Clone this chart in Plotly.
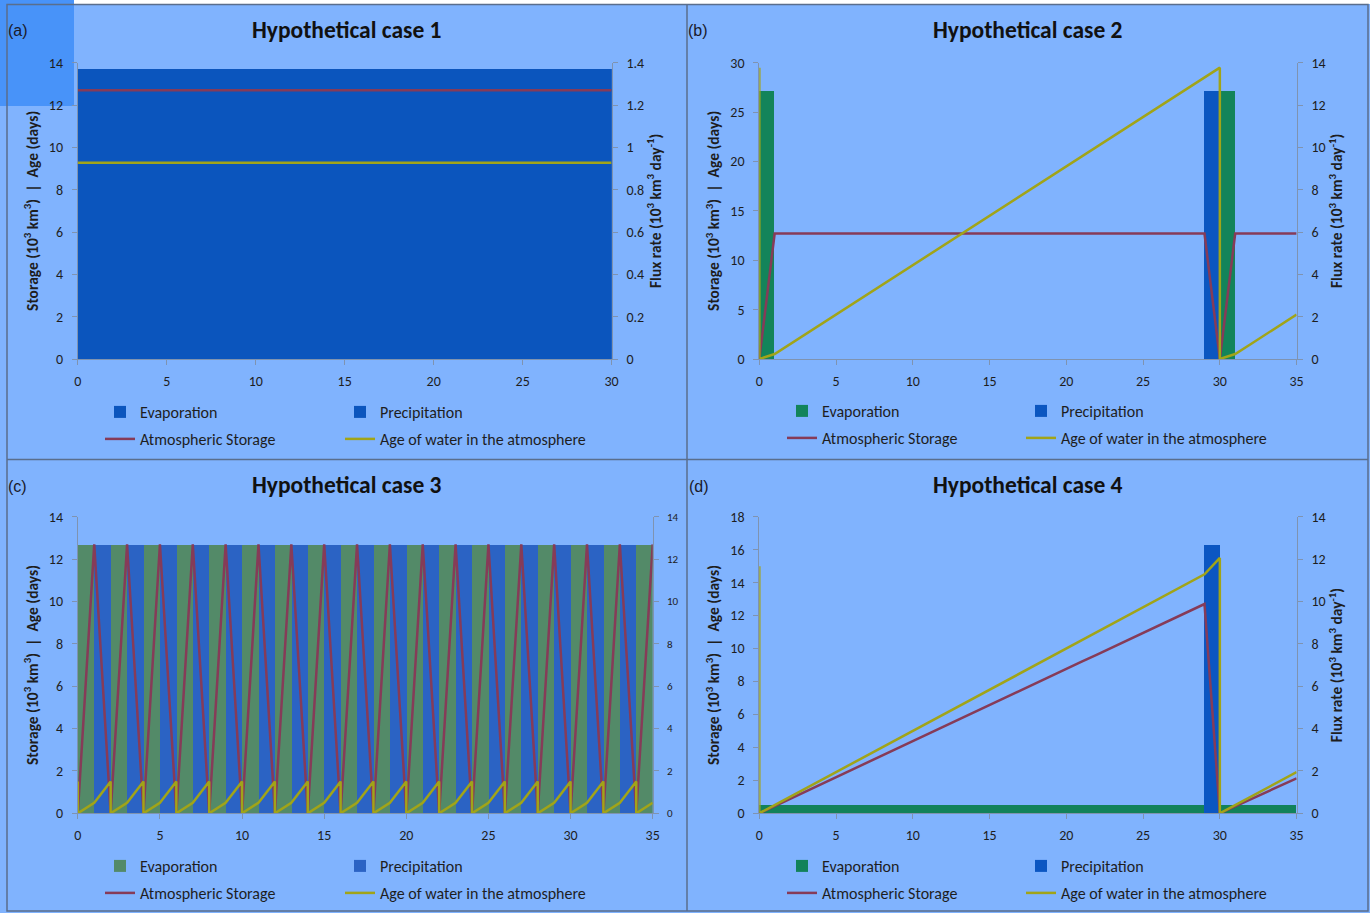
import plotly.graph_objects as go

W, H = 1370, 913

# ---------------- DATA ----------------
# Case 1 (flux on right axis, 10^3 km3/day ; storage/age on left axis)
c1_days = [0, 1, 2, 3, 4, 5, 6, 7, 8, 9, 10, 11, 12, 13, 14, 15, 16, 17, 18, 19,
           20, 21, 22, 23, 24, 25, 26, 27, 28, 29]
c1_evap = [1.37, 1.37, 1.37, 1.37, 1.37, 1.37, 1.37, 1.37, 1.37, 1.37,
           1.37, 1.37, 1.37, 1.37, 1.37, 1.37, 1.37, 1.37, 1.37, 1.37,
           1.37, 1.37, 1.37, 1.37, 1.37, 1.37, 1.37, 1.37, 1.37, 1.37]
c1_prec = [1.37, 1.37, 1.37, 1.37, 1.37, 1.37, 1.37, 1.37, 1.37, 1.37,
           1.37, 1.37, 1.37, 1.37, 1.37, 1.37, 1.37, 1.37, 1.37, 1.37,
           1.37, 1.37, 1.37, 1.37, 1.37, 1.37, 1.37, 1.37, 1.37, 1.37]
c1_t = [0, 1, 2, 3, 4, 5, 6, 7, 8, 9, 10, 11, 12, 13, 14, 15, 16, 17, 18, 19,
        20, 21, 22, 23, 24, 25, 26, 27, 28, 29, 30]
c1_storage = [12.7, 12.7, 12.7, 12.7, 12.7, 12.7, 12.7, 12.7, 12.7, 12.7,
              12.7, 12.7, 12.7, 12.7, 12.7, 12.7, 12.7, 12.7, 12.7, 12.7,
              12.7, 12.7, 12.7, 12.7, 12.7, 12.7, 12.7, 12.7, 12.7, 12.7, 12.7]
c1_age = [9.27, 9.27, 9.27, 9.27, 9.27, 9.27, 9.27, 9.27, 9.27, 9.27,
          9.27, 9.27, 9.27, 9.27, 9.27, 9.27, 9.27, 9.27, 9.27, 9.27,
          9.27, 9.27, 9.27, 9.27, 9.27, 9.27, 9.27, 9.27, 9.27, 9.27, 9.27]

# Case 2
c2_days = [0, 1, 2, 3, 4, 5, 6, 7, 8, 9, 10, 11, 12, 13, 14, 15, 16, 17, 18, 19,
           20, 21, 22, 23, 24, 25, 26, 27, 28, 29, 30, 31, 32, 33, 34]
c2_evap = [12.7, 0, 0, 0, 0, 0, 0, 0, 0, 0, 0, 0, 0, 0, 0, 0, 0, 0, 0, 0,
           0, 0, 0, 0, 0, 0, 0, 0, 0, 0, 12.7, 0, 0, 0, 0]
c2_prec = [0, 0, 0, 0, 0, 0, 0, 0, 0, 0, 0, 0, 0, 0, 0, 0, 0, 0, 0, 0,
           0, 0, 0, 0, 0, 0, 0, 0, 0, 12.7, 0, 0, 0, 0, 0]
c2_t_storage = [0, 1, 2, 3, 4, 5, 6, 7, 8, 9, 10, 11, 12, 13, 14, 15, 16, 17, 18, 19,
                20, 21, 22, 23, 24, 25, 26, 27, 28, 29, 30, 31, 32, 33, 34, 35]
c2_storage = [0, 12.7, 12.7, 12.7, 12.7, 12.7, 12.7, 12.7, 12.7, 12.7, 12.7, 12.7,
              12.7, 12.7, 12.7, 12.7, 12.7, 12.7, 12.7, 12.7, 12.7, 12.7, 12.7, 12.7,
              12.7, 12.7, 12.7, 12.7, 12.7, 12.7, 0, 12.7, 12.7, 12.7, 12.7, 12.7]
c2_t_age = [0, 0, 1, 2, 3, 4, 5, 6, 7, 8, 9, 10, 11, 12, 13, 14, 15, 16, 17, 18, 19,
            20, 21, 22, 23, 24, 25, 26, 27, 28, 29, 30, 30, 31, 32, 33, 34, 35]
c2_age = [29.5, 0, 0.5, 1.5, 2.5, 3.5, 4.5, 5.5, 6.5, 7.5, 8.5, 9.5, 10.5, 11.5, 12.5,
          13.5, 14.5, 15.5, 16.5, 17.5, 18.5, 19.5, 20.5, 21.5, 22.5, 23.5, 24.5, 25.5,
          26.5, 27.5, 28.5, 29.5, 0, 0.5, 1.5, 2.5, 3.5, 4.5]

# Case 3
c3_days = [0, 1, 2, 3, 4, 5, 6, 7, 8, 9, 10, 11, 12, 13, 14, 15, 16, 17, 18, 19,
           20, 21, 22, 23, 24, 25, 26, 27, 28, 29, 30, 31, 32, 33, 34]
c3_evap = [12.7, 0, 12.7, 0, 12.7, 0, 12.7, 0, 12.7, 0, 12.7, 0, 12.7, 0, 12.7, 0,
           12.7, 0, 12.7, 0, 12.7, 0, 12.7, 0, 12.7, 0, 12.7, 0, 12.7, 0, 12.7, 0,
           12.7, 0, 12.7]
c3_prec = [0, 12.7, 0, 12.7, 0, 12.7, 0, 12.7, 0, 12.7, 0, 12.7, 0, 12.7, 0, 12.7,
           0, 12.7, 0, 12.7, 0, 12.7, 0, 12.7, 0, 12.7, 0, 12.7, 0, 12.7, 0, 12.7,
           0, 12.7, 0]
c3_t_storage = [0, 1, 2, 3, 4, 5, 6, 7, 8, 9, 10, 11, 12, 13, 14, 15, 16, 17, 18, 19,
                20, 21, 22, 23, 24, 25, 26, 27, 28, 29, 30, 31, 32, 33, 34, 35]
c3_storage = [0, 12.7, 0, 12.7, 0, 12.7, 0, 12.7, 0, 12.7, 0, 12.7, 0, 12.7, 0, 12.7,
              0, 12.7, 0, 12.7, 0, 12.7, 0, 12.7, 0, 12.7, 0, 12.7, 0, 12.7, 0, 12.7,
              0, 12.7, 0, 12.7]
c3_t_age = [0, 0, 1, 2, 2, 3, 4, 4, 5, 6, 6, 7, 8, 8, 9, 10, 10, 11, 12, 12, 13, 14, 14,
            15, 16, 16, 17, 18, 18, 19, 20, 20, 21, 22, 22, 23, 24, 24, 25, 26, 26, 27,
            28, 28, 29, 30, 30, 31, 32, 32, 33, 34, 34, 35]
c3_age = [1.5, 0, 0.5, 1.5, 0, 0.5, 1.5, 0, 0.5, 1.5, 0, 0.5, 1.5, 0, 0.5, 1.5, 0, 0.5,
          1.5, 0, 0.5, 1.5, 0, 0.5, 1.5, 0, 0.5, 1.5, 0, 0.5, 1.5, 0, 0.5, 1.5, 0, 0.5,
          1.5, 0, 0.5, 1.5, 0, 0.5, 1.5, 0, 0.5, 1.5, 0, 0.5, 1.5, 0, 0.5, 1.5, 0, 0.5]

# Case 4
c4_days = [0, 1, 2, 3, 4, 5, 6, 7, 8, 9, 10, 11, 12, 13, 14, 15, 16, 17, 18, 19,
           20, 21, 22, 23, 24, 25, 26, 27, 28, 29, 30, 31, 32, 33, 34]
c4_evap = [0.42, 0.42, 0.42, 0.42, 0.42, 0.42, 0.42, 0.42, 0.42, 0.42, 0.42, 0.42,
           0.42, 0.42, 0.42, 0.42, 0.42, 0.42, 0.42, 0.42, 0.42, 0.42, 0.42, 0.42,
           0.42, 0.42, 0.42, 0.42, 0.42, 0, 0.42, 0.42, 0.42, 0.42, 0.42]
c4_prec = [0, 0, 0, 0, 0, 0, 0, 0, 0, 0, 0, 0, 0, 0, 0, 0, 0, 0, 0, 0,
           0, 0, 0, 0, 0, 0, 0, 0, 0, 12.7, 0, 0, 0, 0, 0]
c4_t_storage = [0, 1, 2, 3, 4, 5, 6, 7, 8, 9, 10, 11, 12, 13, 14, 15, 16, 17, 18, 19,
                20, 21, 22, 23, 24, 25, 26, 27, 28, 29, 30, 31, 32, 33, 34, 35]
c4_storage = [0, 0.44, 0.88, 1.31, 1.75, 2.19, 2.63, 3.07, 3.5, 3.94, 4.38, 4.82, 5.26,
              5.69, 6.13, 6.57, 7.01, 7.45, 7.88, 8.32, 8.76, 9.2, 9.63, 10.07, 10.51,
              10.95, 11.39, 11.82, 12.26, 12.7, 0, 0.42, 0.85, 1.27, 1.69, 2.12]
c4_t_age = [0, 0, 1, 2, 3, 4, 5, 6, 7, 8, 9, 10, 11, 12, 13, 14, 15, 16, 17, 18, 19,
            20, 21, 22, 23, 24, 25, 26, 27, 28, 29, 30, 30, 31, 32, 33, 34, 35]
c4_age = [15.0, 0, 0.5, 1.0, 1.5, 2.0, 2.5, 3.0, 3.5, 4.0, 4.5, 5.0, 5.5, 6.0, 6.5, 7.0,
          7.5, 8.0, 8.5, 9.0, 9.5, 10.0, 10.5, 11.0, 11.5, 12.0, 12.5, 13.0, 13.5, 14.0,
          14.5, 15.5, 0, 0.5, 1.0, 1.5, 2.0, 2.5]

titles = ["Hypothetical case 1", "Hypothetical case 2", "Hypothetical case 3", "Hypothetical case 4"]
panel_labels = ["(a)", "(b)", "(c)", "(d)"]
legend_names = ["Evaporation", "Precipitation", "Atmospheric Storage", "Age of water in the atmosphere"]

# ---------------- STYLE ----------------
BG = "#80B3FE"
FONT = "Carlito, Lato, 'Open Sans', sans-serif"
AXIS_COL = "#7F93B0"
TXT = "#1E1E1E"
STOR_COL = "#863B58"
AGE_COL = "#A1A418"

def fx(px):
    return px / W

def fy(py):
    return 1 - py / H

panels = [
    dict(x0=77.8, x1=611.6, yb=359.0, yt=62.7, xmax=30, lmax=14, ldt=2, rmax=1.4, rdt=0.2,
         evap_col="#0B55BD", prec_col="#0B55BD", rtitle=True, rfont=14),
    dict(x0=759.3, x1=1296.6, yb=359.0, yt=62.7, xmax=35, lmax=30, ldt=5, rmax=14, rdt=2,
         evap_col="#13845A", prec_col="#0B56C0", rtitle=True, rfont=14),
    dict(x0=77.8, x1=652.7, yb=813.3, yt=516.7, xmax=35, lmax=14, ldt=2, rmax=14, rdt=2,
         evap_col="#538A68", prec_col="#2B63C4", rtitle=False, rfont=11),
    dict(x0=759.3, x1=1296.6, yb=813.3, yt=516.7, xmax=35, lmax=18, ldt=2, rmax=14, rdt=2,
         evap_col="#12825A", prec_col="#0B56C2", rtitle=True, rfont=14),
]
data = [
    (c1_days, c1_evap, c1_prec, c1_t, c1_storage, c1_t, c1_age),
    (c2_days, c2_evap, c2_prec, c2_t_storage, c2_storage, c2_t_age, c2_age),
    (c3_days, c3_evap, c3_prec, c3_t_storage, c3_storage, c3_t_age, c3_age),
    (c4_days, c4_evap, c4_prec, c4_t_storage, c4_storage, c4_t_age, c4_age),
]
# legend text start (px) for the two columns, and the two row centres (px)
legend_cols = [(140, 380), (822, 1061), (140, 380), (822, 1061)]
legend_rows = [(412, 439), (411, 438), (866, 893), (866, 893)]
title_pos = [(347, 30), (1028, 30), (347, 485), (1028, 485)]
label_pos = [(6, 30), (686, 30), (6, 486), (687, 486)]

fig = go.Figure()
layout = dict(
    width=W, height=H, margin=dict(l=0, r=0, t=0, b=0, autoexpand=False),
    paper_bgcolor=BG, plot_bgcolor="rgba(0,0,0,0)",
    barmode="overlay", bargap=0, showlegend=True,
    font=dict(family=FONT, color=TXT, size=14),
)

annotations = []
shapes = []

for i, (p, d) in enumerate(zip(panels, data)):
    n = i + 1
    xa = "x" if n == 1 else f"x{n}"
    yb_name = "y" if n == 1 else f"y{2*n-1}"
    yl_name = f"y{2*n}"
    leg_ids = []
    for k in range(4):
        idx = 4 * i + k + 1
        leg_ids.append("legend" if idx == 1 else f"legend{idx}")
    days, evap, prec, ts, stor, ta, age = d

    fig.add_trace(go.Bar(x=days, y=evap, width=1, offset=0, name=legend_names[0],
                         marker=dict(color=p["evap_col"], line=dict(width=0)),
                         xaxis=xa, yaxis=yb_name, legend=leg_ids[0]))
    fig.add_trace(go.Bar(x=days, y=prec, width=1, offset=0, name=legend_names[1],
                         marker=dict(color=p["prec_col"], line=dict(width=0)),
                         xaxis=xa, yaxis=yb_name, legend=leg_ids[1]))
    fig.add_trace(go.Scatter(x=ts, y=stor, mode="lines", name=legend_names[2],
                             line=dict(color=STOR_COL, width=2.5),
                             xaxis=xa, yaxis=yl_name, legend=leg_ids[2]))
    fig.add_trace(go.Scatter(x=ta, y=age, mode="lines", name=legend_names[3],
                             line=dict(color=AGE_COL, width=2.5),
                             xaxis=xa, yaxis=yl_name, legend=leg_ids[3]))

    xkey = "xaxis" if n == 1 else f"xaxis{n}"
    ybkey = "yaxis" if n == 1 else f"yaxis{2*n-1}"
    ylkey = f"yaxis{2*n}"
    common = dict(showgrid=False, zeroline=False, showline=True, linecolor=AXIS_COL,
                  linewidth=1, ticks="outside", ticklen=5, tickcolor=AXIS_COL,
                  tickfont=dict(family=FONT, size=14, color=TXT), automargin=False)
    layout[xkey] = dict(common, domain=[fx(p["x0"]), fx(p["x1"])], range=[0, p["xmax"]],
                        dtick=5, tick0=0, anchor=yb_name, fixedrange=True, ticklabelstandoff=4)
    layout[ybkey] = dict(common, domain=[fy(p["yb"]), fy(p["yt"])], range=[0, p["rmax"]],
                         dtick=p["rdt"], tick0=0, side="right", anchor=xa, ticklabelstandoff=6,
                         tickfont=dict(family=FONT, size=p["rfont"], color=TXT))
    if p["rtitle"]:
        layout[ybkey]["title"] = dict(
            text="<b>Flux rate (10<sup>3</sup> km<sup>3</sup> day<sup>-1</sup>)</b>",
            font=dict(family=FONT, size=15.5, color=TXT), standoff=6)
    layout[ylkey] = dict(common, range=[0, p["lmax"]], dtick=p["ldt"], tick0=0,
                         side="left", overlaying=yb_name, anchor=xa, ticklabelstandoff=6,
                         title=dict(text="<b>Storage (10<sup>3</sup> km<sup>3</sup>)  |  Age (days)</b>",
                                    font=dict(family=FONT, size=15.5, color=TXT), standoff=6))

    (cx1, cx2), (ry1, ry2) = legend_cols[i], legend_rows[i]
    for k, (tx_, ty_) in enumerate(((cx1, ry1), (cx2, ry1), (cx1, ry2), (cx2, ry2))):
        layout[leg_ids[k]] = dict(x=fx(tx_ - 40), y=fy(ty_), xanchor="left", yanchor="middle",
                                  orientation="h", bgcolor="rgba(0,0,0,0)", borderwidth=0,
                                  font=dict(family=FONT, size=16, color=TXT), itemclick=False)

    tx, ty = title_pos[i]
    annotations.append(dict(text=f"<b>{titles[i]}</b>", x=fx(tx), y=fy(ty), xref="paper", yref="paper",
                            xanchor="center", yanchor="middle", showarrow=False,
                            font=dict(family=FONT, size=23.5, color="#111111")))
    lxp, lyp = label_pos[i]
    annotations.append(dict(text=panel_labels[i], x=fx(lxp), y=fy(lyp), xref="paper", yref="paper",
                            xanchor="left", yanchor="middle", showarrow=False,
                            font=dict(family="Liberation Sans, Arial, sans-serif", size=16, color="#1A1A2A")))

# decorative background pieces
shapes.append(dict(type="rect", xref="paper", yref="paper", x0=fx(0), x1=fx(74), y0=fy(106), y1=fy(0),
                   fillcolor="#4893F9", line=dict(width=0), layer="below"))
shapes.append(dict(type="rect", xref="paper", yref="paper", x0=fx(74), x1=fx(1370), y0=fy(4), y1=fy(0),
                   fillcolor="#FFFFFF", line=dict(width=0), layer="below"))
BORDER = "#5A6E8C"
shapes.append(dict(type="rect", xref="paper", yref="paper", x0=fx(7), x1=fx(1368), y0=fy(911), y1=fy(4.5),
                   line=dict(color=BORDER, width=1.5), fillcolor="rgba(0,0,0,0)", layer="above"))
shapes.append(dict(type="line", xref="paper", yref="paper", x0=fx(687), x1=fx(687), y0=fy(911), y1=fy(4.5),
                   line=dict(color=BORDER, width=1.5), layer="above"))
shapes.append(dict(type="line", xref="paper", yref="paper", x0=fx(7), x1=fx(1368), y0=fy(459.5), y1=fy(459.5),
                   line=dict(color=BORDER, width=1.5), layer="above"))

layout["annotations"] = annotations
layout["shapes"] = shapes
fig.update_layout(**layout)
fig.write_html("out.html", config={"displayModeBar": False},
               post_script="document.body.style.margin='0';document.body.style.overflow='hidden';")
